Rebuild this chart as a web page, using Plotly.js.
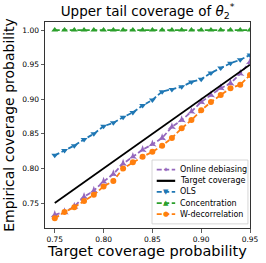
<!DOCTYPE html>
<html><head><meta charset="utf-8">
<script src="https://cdn.plot.ly/plotly-3.0.1.min.js"></script>
<style>body{margin:0;padding:0;background:#fff}#chart{width:266px;height:263px}</style>
</head><body><div id="chart"></div>
<script>
const targetLevels = [0.75,0.76,0.77,0.78,0.79,0.80,0.81,0.82,0.83,0.84,0.85,0.86,0.87,0.88,0.89,0.90,0.91,0.92,0.93,0.94,0.95];
const onlineDebiasing = [0.733,0.737,0.745,0.759,0.768,0.781,0.792,0.807,0.817,0.827,0.835,0.844,0.860,0.870,0.882,0.896,0.906,0.916,0.923,0.937,0.954];
const targetCoverage = [0.75,0.95];
const targetX = [0.75,0.95];
const ols = [0.819,0.826,0.833,0.842,0.850,0.861,0.866,0.874,0.881,0.891,0.899,0.911,0.914,0.918,0.925,0.929,0.938,0.945,0.952,0.957,0.964];
const concentration = [1,1,1,1,1,1,1,1,1,1,1,1,1,1,1,1,1,1,1,1,1];
const wDecorrelation = [0.728,0.737,0.744,0.753,0.762,0.774,0.782,0.800,0.809,0.817,0.824,0.833,0.844,0.858,0.870,0.884,0.896,0.906,0.916,0.921,0.935];
const yTicks = [0.75,0.80,0.85,0.90,0.95,1.00];
const xTicks = [0.75,0.80,0.85,0.90,0.95];
const seriesNames = ["Online debiasing","Target coverage","OLS","Concentration","W-decorrelation"];
const seriesColors = ["#9467bd","#000000","#1f77b4","#2ca02c","#ff7f0e"];
const seriesSymbols = ["star-triangle-up", null, "triangle-down", "triangle-up", "circle"];
const legendGlyphs = ["✦", "", "▼", "▲", "●"];

const font = "DejaVu Sans, sans-serif";
const dash = "5px,2.5px";
const traces = [
  {x: targetLevels, y: onlineDebiasing, name: seriesNames[0], mode: "lines+markers",
   line: {color: seriesColors[0], width: 1.8, dash: dash}, marker: {symbol: seriesSymbols[0], size: 6, color: seriesColors[0]}},
  {x: targetX, y: targetCoverage, name: seriesNames[1], mode: "lines",
   line: {color: seriesColors[1], width: 1.8}},
  {x: targetLevels, y: ols, name: seriesNames[2], mode: "lines+markers",
   line: {color: seriesColors[2], width: 1.8, dash: dash}, marker: {symbol: seriesSymbols[2], size: 6, color: seriesColors[2]}},
  {x: targetLevels, y: concentration, name: seriesNames[3], mode: "lines+markers",
   line: {color: seriesColors[3], width: 1.8, dash: dash}, marker: {symbol: seriesSymbols[3], size: 6, color: seriesColors[3]}},
  {x: targetLevels, y: wDecorrelation, name: seriesNames[4], mode: "lines+markers",
   line: {color: seriesColors[4], width: 1.8, dash: dash}, marker: {symbol: seriesSymbols[4], size: 6, color: seriesColors[4]}}
];

// manual compact legend (paper coordinates of plot area)
const legX0 = 0.522, legX1 = 0.99, legY0 = 0.02, legY1 = 0.33;
const sampleX0 = 0.545, sampleX1 = 0.635, textX = 0.65;
const rowStep = (legY1 - legY0 - 0.04) / 5;
const shapes = [{type: "rect", xref: "paper", yref: "paper", x0: legX0, x1: legX1, y0: legY0, y1: legY1,
  line: {color: "#cccccc", width: 0.8}, fillcolor: "rgba(255,255,255,0.85)", layer: "above"}];
const annotations = [];
seriesNames.forEach((n, i) => {
  const yy = legY1 - 0.02 - rowStep * (i + 0.5);
  shapes.push({type: "line", xref: "paper", yref: "paper", x0: sampleX0, x1: sampleX1, y0: yy, y1: yy,
    line: {color: seriesColors[i], width: i === 1 ? 2.2 : 1.8, dash: i === 1 ? "solid" : dash}, layer: "above"});
  annotations.push({xref: "paper", yref: "paper", x: textX, y: yy, text: n, showarrow: false, xanchor: "left", yanchor: "middle",
    font: {family: font, size: 8, color: "#000"}});
  if (legendGlyphs[i]) {
    annotations.push({xref: "paper", yref: "paper", x: (sampleX0 + sampleX1) / 2, y: yy, text: legendGlyphs[i], showarrow: false,
      xanchor: "center", yanchor: "middle", font: {family: font, size: 7, color: seriesColors[i]}});
  }
});

const axisCommon = {showgrid: false, zeroline: false, showline: true, linecolor: "#333", linewidth: 1, mirror: true,
  ticks: "outside", ticklen: 3.5, tickwidth: 0.8, tickcolor: "#333", tickfont: {family: font, size: 7.5, color: "#000"}};
const layout = {
  width: 266, height: 263,
  margin: {l: 45, r: 16, t: 22, b: 35},
  paper_bgcolor: "#fff", plot_bgcolor: "#fff",
  showlegend: false,
  title: {text: "Upper tail coverage of <i>θ</i><sub>2</sub><sup>*</sup>", font: {family: font, size: 13.5, color: "#000"}, x: 0.555, xanchor: "center", y: 0.975, yanchor: "top"},
  xaxis: Object.assign({}, axisCommon, {range: [0.74, 0.95], tickvals: xTicks, ticktext: xTicks.map(v => v.toFixed(2)),
    title: {text: "Target coverage probability", font: {family: font, size: 14.5, color: "#000"}, standoff: 3}}),
  yaxis: Object.assign({}, axisCommon, {range: [0.714, 1.0116], tickvals: yTicks, ticktext: yTicks.map(v => v.toFixed(2)),
    title: {text: "Empirical coverage probability", font: {family: font, size: 14, color: "#000"}, standoff: 4}}),
  shapes: shapes,
  annotations: annotations
};
Plotly.newPlot("chart", traces, layout, {displayModeBar: false, staticPlot: true});
</script></body></html>
